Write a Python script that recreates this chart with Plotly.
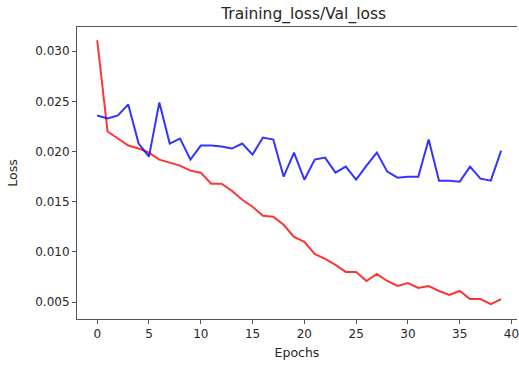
import plotly.graph_objects as go

epochs = list(range(40))
train_loss = [0.0311, 0.0220, 0.0213, 0.0206, 0.0203, 0.0199, 0.0192, 0.0189, 0.0186, 0.0181,
              0.0179, 0.0168, 0.0168, 0.0161, 0.0152, 0.0145, 0.0136, 0.0135, 0.0127, 0.0115,
              0.0110, 0.0098, 0.0093, 0.0087, 0.0080, 0.0080, 0.0071, 0.0078, 0.0071, 0.0066,
              0.0069, 0.0064, 0.0066, 0.0061, 0.0057, 0.0061, 0.0053, 0.0053, 0.0048, 0.0053]
val_loss = [0.0236, 0.0233, 0.0236, 0.0247, 0.0208, 0.0195, 0.0249, 0.0208, 0.0213, 0.0192,
            0.0206, 0.0206, 0.0205, 0.0203, 0.0208, 0.0197, 0.0214, 0.0212, 0.0175, 0.0199,
            0.0172, 0.0192, 0.0194, 0.0179, 0.0185, 0.0172, 0.0186, 0.0199, 0.0180, 0.0174,
            0.0175, 0.0175, 0.0212, 0.0171, 0.0171, 0.0170, 0.0185, 0.0173, 0.0171, 0.0201]
x_ticks = [0, 5, 10, 15, 20, 25, 30, 35, 40]
y_ticks = [0.005, 0.010, 0.015, 0.020, 0.025, 0.030]

font = "DejaVu Sans"
fig = go.Figure()
fig.add_trace(go.Scatter(x=epochs, y=train_loss, mode="lines",
                         line=dict(color="rgba(255,0,0,0.8)", width=2), name="Training loss"))
fig.add_trace(go.Scatter(x=epochs, y=val_loss, mode="lines",
                         line=dict(color="rgba(0,0,255,0.8)", width=2), name="Val loss"))

fig.update_layout(
    width=519, height=366,
    margin=dict(l=77, r=0, t=27, b=47),
    plot_bgcolor="white", paper_bgcolor="white",
    showlegend=False,
    font=dict(family=font, size=12, color="#262626"),
    title=dict(text="Training_loss/Val_loss", x=0.585, xanchor="center", y=0.962, yanchor="middle",
               font=dict(family=font, size=15.5, color="#262626")),
)
fig.update_xaxes(range=[-1.95, 40.53], tickvals=x_ticks, ticks="outside", ticklen=4, tickcolor="#555",
                 ticklabeloverflow="allow", tickfont=dict(size=12),
                 showgrid=False, zeroline=False, showline=True, linecolor="#555", linewidth=1,
                 mirror=True, title=dict(text="Epochs", standoff=7, font=dict(size=12.5)))
fig.update_yaxes(range=[0.00331, 0.03242], tickvals=y_ticks, tickformat=".3f", ticks="outside",
                 ticklen=4, tickcolor="#555", tickfont=dict(size=12),
                 showgrid=False, zeroline=False, showline=True,
                 linecolor="#555", linewidth=1, title=dict(text="Loss", standoff=14, font=dict(size=12.5)))

fig.write_html("out.html")
